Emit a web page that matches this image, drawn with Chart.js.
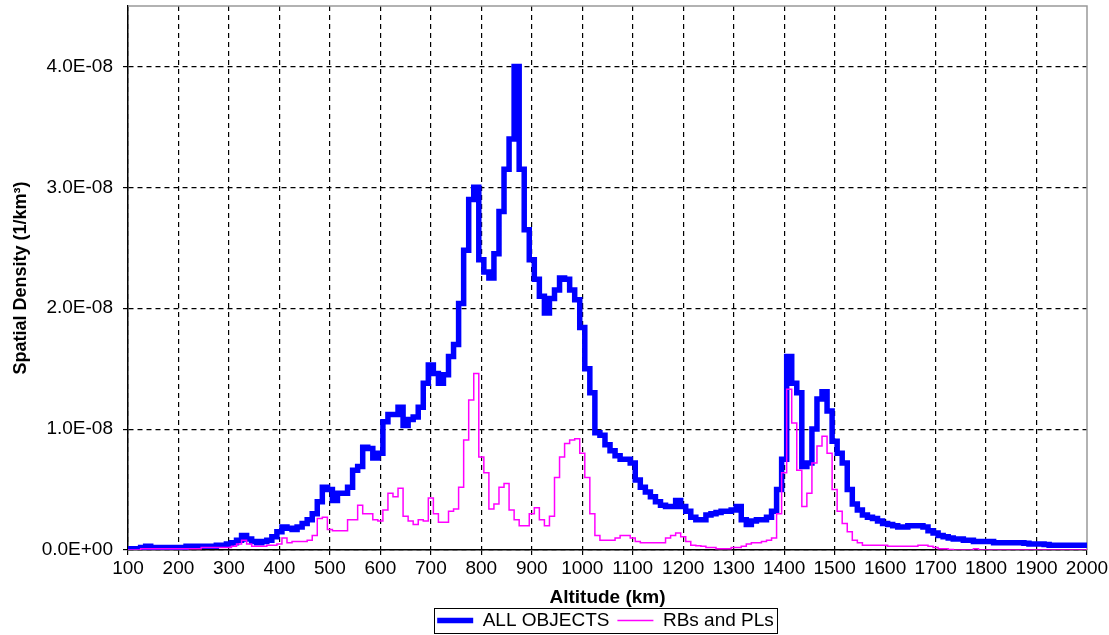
<!DOCTYPE html>
<html>
<head>
<meta charset="utf-8">
<title>Spatial Density vs Altitude</title>
<script src="https://cdn.jsdelivr.net/npm/chart.js@4.4.1/dist/chart.umd.min.js"></script>
<style>
  body { margin: 0; background: #fff; }
  #chart { display: block; }
</style>
</head>
<body>
<canvas id="chart" width="1109" height="635"></canvas>
<script>
// altitude bins (km)
const altitudes = [
  100, 110, 120, 130, 140, 150, 160, 170, 180, 190,
  200, 210, 220, 230, 240, 250, 260, 270, 280, 290,
  300, 310, 320, 330, 340, 350, 360, 370, 380, 390,
  400, 410, 420, 430, 440, 450, 460, 470, 480, 490,
  500, 510, 520, 530, 540, 550, 560, 570, 580, 590,
  600, 610, 620, 630, 640, 650, 660, 670, 680, 690,
  700, 710, 720, 730, 740, 750, 760, 770, 780, 790,
  800, 810, 820, 830, 840, 850, 860, 870, 880, 890,
  900, 910, 920, 930, 940, 950, 960, 970, 980, 990,
  1000, 1010, 1020, 1030, 1040, 1050, 1060, 1070, 1080, 1090,
  1100, 1110, 1120, 1130, 1140, 1150, 1160, 1170, 1180, 1190,
  1200, 1210, 1220, 1230, 1240, 1250, 1260, 1270, 1280, 1290,
  1300, 1310, 1320, 1330, 1340, 1350, 1360, 1370, 1380, 1390,
  1400, 1410, 1420, 1430, 1440, 1450, 1460, 1470, 1480, 1490,
  1500, 1510, 1520, 1530, 1540, 1550, 1560, 1570, 1580, 1590,
  1600, 1610, 1620, 1630, 1640, 1650, 1660, 1670, 1680, 1690,
  1700, 1710, 1720, 1730, 1740, 1750, 1760, 1770, 1780, 1790,
  1800, 1810, 1820, 1830, 1840, 1850, 1860, 1870, 1880, 1890,
  1900, 1910, 1920, 1930, 1940, 1950, 1960, 1970, 1980, 1990,
  2000
];

// spatial density, in units of 1E-08 per km^3
const allObjects = [
  0.01, 0.01, 0.01, 0.02, 0.03, 0.02, 0.02, 0.02, 0.02, 0.02,
  0.02, 0.02, 0.03, 0.03, 0.03, 0.03, 0.03, 0.03, 0.04, 0.04,
  0.05, 0.06, 0.08, 0.12, 0.09, 0.07, 0.06, 0.07, 0.08, 0.11,
  0.15, 0.19, 0.18, 0.17, 0.19, 0.22, 0.25, 0.30, 0.40, 0.52,
  0.50, 0.41, 0.47, 0.47, 0.52, 0.66, 0.69, 0.85, 0.84, 0.76,
  0.80, 1.06, 1.12, 1.12, 1.18, 1.03, 1.08, 1.10, 1.18, 1.38,
  1.53, 1.46, 1.38, 1.45, 1.60, 1.70, 2.04, 2.48, 2.90, 3.00,
  2.40, 2.30, 2.25, 2.45, 2.80, 3.15, 3.40, 4.00, 3.15, 2.65,
  2.40, 2.24, 2.10, 1.96, 2.08, 2.15, 2.25, 2.24, 2.15, 2.07,
  1.84, 1.50, 1.30, 0.97, 0.95, 0.87, 0.82, 0.78, 0.75, 0.75,
  0.72, 0.58, 0.52, 0.48, 0.44, 0.40, 0.37, 0.36, 0.36, 0.41,
  0.36, 0.32, 0.27, 0.25, 0.25, 0.29, 0.30, 0.31, 0.32, 0.32,
  0.33, 0.36, 0.25, 0.21, 0.24, 0.25, 0.25, 0.27, 0.32, 0.50,
  0.75, 1.60, 1.38, 1.30, 0.69, 0.72, 1.00, 1.25, 1.31, 1.15,
  0.90, 0.80, 0.72, 0.50, 0.38, 0.33, 0.29, 0.27, 0.26, 0.24,
  0.22, 0.21, 0.20, 0.19, 0.19, 0.20, 0.20, 0.20, 0.19, 0.16,
  0.14, 0.12, 0.11, 0.10, 0.09, 0.09, 0.08, 0.08, 0.07, 0.07,
  0.07, 0.07, 0.06, 0.06, 0.06, 0.06, 0.06, 0.06, 0.055, 0.05,
  0.05, 0.05, 0.045, 0.04, 0.04, 0.04, 0.04, 0.04, 0.04, 0.04,
  0.04
];

const rbsAndPls = [
  0.00, 0.00, 0.00, 0.01, 0.01, 0.01, 0.01, 0.01, 0.01, 0.01,
  0.01, 0.01, 0.01, 0.01, 0.01, 0.02, 0.02, 0.02, 0.02, 0.02,
  0.02, 0.03, 0.05, 0.08, 0.05, 0.03, 0.03, 0.03, 0.04, 0.04,
  0.05, 0.10, 0.06, 0.07, 0.07, 0.07, 0.08, 0.12, 0.26, 0.27,
  0.17, 0.16, 0.16, 0.16, 0.25, 0.25, 0.37, 0.30, 0.30, 0.25,
  0.24, 0.33, 0.47, 0.44, 0.51, 0.28, 0.24, 0.21, 0.25, 0.24,
  0.43, 0.30, 0.23, 0.23, 0.32, 0.34, 0.52, 0.91, 1.24, 1.46,
  0.77, 0.64, 0.34, 0.38, 0.52, 0.55, 0.33, 0.25, 0.20, 0.20,
  0.30, 0.35, 0.25, 0.20, 0.28, 0.60, 0.77, 0.88, 0.91, 0.92,
  0.80, 0.60, 0.30, 0.12, 0.08, 0.08, 0.08, 0.10, 0.12, 0.12,
  0.10, 0.07, 0.06, 0.06, 0.06, 0.06, 0.06, 0.10, 0.12, 0.14,
  0.11, 0.07, 0.04, 0.035, 0.03, 0.02, 0.02, 0.01, 0.01, 0.01,
  0.02, 0.02, 0.03, 0.05, 0.06, 0.06, 0.07, 0.08, 0.10, 0.30,
  0.64, 1.33, 1.05, 0.66, 0.36, 0.47, 0.72, 0.86, 0.94, 0.80,
  0.50, 0.32, 0.22, 0.15, 0.08, 0.06, 0.04, 0.04, 0.04, 0.04,
  0.04, 0.03, 0.03, 0.03, 0.03, 0.03, 0.03, 0.04, 0.04, 0.03,
  0.02, 0.01, 0.01, 0.005, 0.00, 0.00, 0.00, 0.00, 0.01, 0.00,
  0.00, 0.00, 0.00, 0.00, 0.00, 0.00, 0.00, 0.00, 0.00, 0.00,
  0.00, 0.00, 0.00, 0.00, 0.00, 0.00, 0.00, 0.00, 0.00, 0.00,
  0.00
];

const seriesNames = ["ALL OBJECTS", "RBs and PLs"];
const yTickValues = [0, 1, 2, 3, 4];

const FONT = "'Liberation Sans', Arial, sans-serif";
const CHART_BOTTOM = 550;
const PAD_BOTTOM = -5;
const LEGEND_SHIFT = 62;

// gray frame on top/right of plot area, box around legend, legend nudge
const framePlugin = {
  id: "frame",
  afterLayout(chart) {
    chart.legend.left += LEGEND_SHIFT;
    chart.legend.right += LEGEND_SHIFT;
  },
  beforeDatasetsDraw(chart) {
    const { ctx, chartArea: a } = chart;
    ctx.save();
    ctx.strokeStyle = "#999";
    ctx.lineWidth = 1.5;
    ctx.beginPath();
    ctx.moveTo(a.left, a.top);
    ctx.lineTo(a.right, a.top);
    ctx.lineTo(a.right, a.bottom);
    ctx.stroke();
    ctx.restore();
  },
  afterDraw(chart) {
    const boxes = chart.legend.legendHitBoxes;
    if (!boxes || !boxes.length) return;
    const left = Math.min(...boxes.map(b => b.left)) - 3;
    const right = Math.max(...boxes.map(b => b.left + b.width)) + 3;
    const top = Math.min(...boxes.map(b => b.top)) - 3;
    const bottom = Math.max(...boxes.map(b => b.top + b.height)) + 3;
    const ctx = chart.ctx;
    ctx.save();
    ctx.strokeStyle = "#000";
    ctx.lineWidth = 1;
    ctx.strokeRect(Math.round(left) + 0.5, Math.round(top) + 0.5, Math.round(right - left), Math.round(bottom - top));
    ctx.restore();
  }
};

const gridDash = { display: true, color: "#000", width: 1.5, dash: [5, 4] };

const ctx = document.getElementById("chart").getContext("2d");
new Chart(ctx, {
  type: "line",
  data: {
    datasets: [
      {
        label: seriesNames[0],
        data: altitudes.map((a, i) => ({ x: a, y: allObjects[i] })),
        borderColor: "#0000ff",
        backgroundColor: "#0000ff",
        borderWidth: 5.5,
        stepped: "middle",
        pointRadius: 0,
        fill: false,
        order: 2
      },
      {
        label: seriesNames[1],
        data: altitudes.map((a, i) => ({ x: a, y: rbsAndPls[i] })),
        borderColor: "#ff00ff",
        backgroundColor: "#ff00ff",
        borderWidth: 1.5,
        stepped: "middle",
        pointRadius: 0,
        fill: false,
        order: 1
      }
    ]
  },
  options: {
    responsive: false,
    animation: false,
    devicePixelRatio: 1,
    layout: { padding: { top: 6, right: 22, bottom: PAD_BOTTOM, left: 0 } },
    plugins: {
      tooltip: { enabled: false },
      legend: {
        position: "bottom",
        labels: {
          usePointStyle: true,
          pointStyle: "line",
          pointStyleWidth: 36,
          padding: 8,
          color: "#000",
          font: { family: FONT, size: 19 },
          sort: (a, b) => a.datasetIndex - b.datasetIndex
        }
      }
    },
    scales: {
      x: {
        type: "linear",
        min: 100,
        max: 2000,
        ticks: {
          stepSize: 100,
          autoSkip: false,
          maxRotation: 0,
          padding: 2,
          color: "#000",
          font: { family: FONT, size: 19 },
          callback: (v) => String(v)
        },
        grid: {
          color: (c) => (c.tick && c.tick.value === 2000 ? "rgba(0,0,0,0)" : "#000"),
          lineWidth: 1.2,
          tickLength: 5,
          tickColor: "#000",
          tickBorderDash: []
        },
        border: gridDash,
        title: {
          display: true,
          text: "Altitude (km)",
          color: "#000",
          padding: { top: 0, bottom: -6 },
          font: { family: FONT, size: 19, weight: "bold" }
        },
        afterFit(scale) {
          scale.height = 635 - PAD_BOTTOM - CHART_BOTTOM - scale.chart.legend.height;
          scale.paddingLeft = 0;
          scale.paddingRight = 0;
        }
      },
      y: {
        min: 0,
        max: 4.5,
        ticks: {
          stepSize: 1,
          padding: 10,
          color: "#000",
          font: { family: FONT, size: 19 },
          callback: (v) => (v === 0 ? "0.0E+00" : v.toFixed(1) + "E-08")
        },
        afterBuildTicks(scale) {
          scale.ticks = yTickValues.map(v => ({ value: v }));
        },
        grid: {
          color: "#000",
          lineWidth: 1.2,
          tickLength: 5,
          tickColor: "#000",
          tickBorderDash: []
        },
        border: gridDash,
        title: {
          display: true,
          text: "Spatial Density (1/km³)",
          color: "#000",
          padding: { top: 10, bottom: 0 },
          font: { family: FONT, size: 18, weight: "bold" }
        },
        afterFit(scale) {
          scale.width = 128;
          scale.paddingTop = 0;
          scale.paddingBottom = 0;
        }
      }
    }
  },
  plugins: [framePlugin]
});
</script>
</body>
</html>
